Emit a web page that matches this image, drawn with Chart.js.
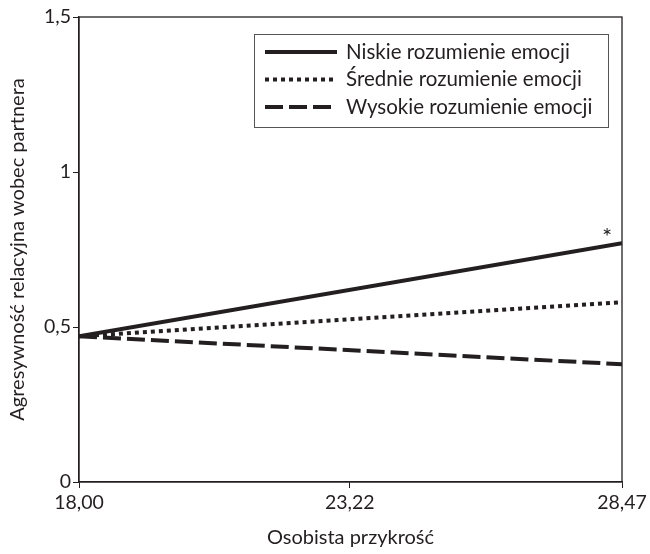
<!DOCTYPE html>
<html>
<head>
<meta charset="utf-8">
<script src="https://cdn.jsdelivr.net/npm/chart.js@4"></script>
<style>
  html, body { margin: 0; padding: 0; background: #fff; }
  #wrap { width: 650px; height: 554px; }
</style>
</head>
<body>
<div id="wrap"><canvas id="chart" width="650" height="554"></canvas></div>
<script>
const xValues = [18.00, 28.47];
const niskie = [0.47, 0.77];
const srednie = [0.47, 0.58];
const wysokie = [0.47, 0.38];
const seriesLabels = ["Niskie rozumienie emocji", "Średnie rozumienie emocji", "Wysokie rozumienie emocji"];
const xTicks = [18.00, 23.22, 28.47];
const xTickLabels = ["18,00", "23,22", "28,47"];
const yTicks = [0, 0.5, 1, 1.5];
const yTickLabels = ["0", "0,5", "1", "1,5"];

const FONT = "Lato";
const INK = "#231f20";

function points(ys) {
  return xValues.map((x, i) => ({ x: x, y: ys[i] }));
}

// frame around the plot, legend box and the asterisk
const extras = {
  id: "extras",
  afterDatasetsDraw(chart) {
    const ctx = chart.ctx;
    const a = chart.chartArea;
    ctx.save();
    ctx.strokeStyle = INK;
    ctx.lineWidth = 1.3;
    ctx.strokeRect(a.left, a.top, a.right - a.left, a.bottom - a.top);

    // legend
    ctx.fillStyle = "#fff";
    ctx.fillRect(254, 34, 354, 93);
    ctx.lineWidth = 1;
    ctx.strokeStyle = "#555";
    ctx.strokeRect(254.5, 34.5, 354, 93);
    ctx.font = "20.5px " + FONT;
    ctx.textBaseline = "middle";
    chart.data.datasets.forEach((ds, i) => {
      const y = 52 + i * 27.5;
      ctx.strokeStyle = ds.borderColor;
      ctx.lineWidth = ds.borderWidth;
      ctx.setLineDash(ds.borderDash || []);
      ctx.beginPath();
      ctx.moveTo(265, y);
      ctx.lineTo(337, y);
      ctx.stroke();
      ctx.setLineDash([]);
      ctx.fillStyle = INK;
      ctx.fillText(ds.label, 346, y);
    });

    // significance mark at the end of the solid line
    const xs = chart.scales.x, ys = chart.scales.y;
    ctx.font = "24px " + FONT;
    ctx.textAlign = "center";
    ctx.fillText("*", xs.getPixelForValue(xValues[1]) - 15, ys.getPixelForValue(niskie[1]) - 6);
    ctx.restore();
  }
};

new Chart(document.getElementById("chart"), {
  type: "line",
  data: {
    datasets: [
      { label: seriesLabels[0], data: points(niskie), borderColor: INK, borderWidth: 4, pointRadius: 0 },
      { label: seriesLabels[1], data: points(srednie), borderColor: INK, borderWidth: 4, borderDash: [4, 4], pointRadius: 0 },
      { label: seriesLabels[2], data: points(wysokie), borderColor: INK, borderWidth: 4, borderDash: [18, 6], pointRadius: 0 }
    ]
  },
  options: {
    responsive: false,
    animation: false,
    layout: { padding: { top: 17, right: 28, left: 6, bottom: 0 } },
    plugins: { legend: { display: false }, tooltip: { enabled: false } },
    scales: {
      x: {
        type: "linear",
        min: xTicks[0],
        max: xTicks[xTicks.length - 1],
        afterBuildTicks: (s) => { s.ticks = xTicks.map((v) => ({ value: v })); },
        afterFit: (s) => { s.height = 72; },
        ticks: {
          callback: (v) => xTickLabels[xTicks.indexOf(v)],
          color: INK, font: { family: FONT, size: 19.5 }, maxRotation: 0, padding: 3
        },
        grid: { drawOnChartArea: false, color: INK, tickLength: 6 },
        border: { color: INK, width: 1.3 },
        title: { display: true, text: "Osobista przykrość", color: INK, font: { family: FONT, size: 20 }, padding: { top: 12 } }
      },
      y: {
        min: 0,
        max: 1.5,
        afterBuildTicks: (s) => { s.ticks = yTicks.map((v) => ({ value: v })); },
        afterFit: (s) => { s.width = 73; },
        ticks: {
          callback: (v) => yTickLabels[yTicks.indexOf(v)],
          color: INK, font: { family: FONT, size: 19.5 }, padding: 2
        },
        grid: { drawOnChartArea: false, color: INK, tickLength: 6 },
        border: { color: INK, width: 1.3 },
        title: { display: true, text: "Agresywność relacyjna wobec partnera", color: INK, font: { family: FONT, size: 20 }, padding: 0 }
      }
    }
  },
  plugins: [extras]
});
</script>
</body>
</html>
